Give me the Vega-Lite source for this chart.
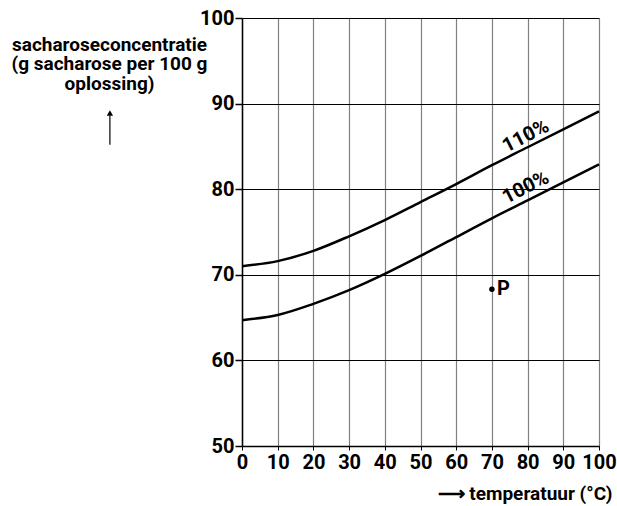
{
  "$schema": "https://vega.github.io/schema/vega-lite/v6.json",
  "width": 357,
  "height": 428,
  "autosize": {"type": "none"},
  "padding": {"left": 242, "top": 18, "right": 18, "bottom": 60},
  "background": "white",
  "config": {
    "view": {"stroke": null},
    "font": "Roboto, sans-serif"
  },
  "datasets": {
    "curves": [
      {"t": 0, "c": 71.0, "s": "110%"}, {"t": 10, "c": 71.6, "s": "110%"}, {"t": 20, "c": 72.8, "s": "110%"},
      {"t": 30, "c": 74.5, "s": "110%"}, {"t": 40, "c": 76.4, "s": "110%"}, {"t": 50, "c": 78.5, "s": "110%"},
      {"t": 60, "c": 80.6, "s": "110%"}, {"t": 70, "c": 82.8, "s": "110%"}, {"t": 80, "c": 84.9, "s": "110%"},
      {"t": 90, "c": 87.0, "s": "110%"}, {"t": 100, "c": 89.1, "s": "110%"},
      {"t": 0, "c": 64.7, "s": "100%"}, {"t": 10, "c": 65.3, "s": "100%"}, {"t": 20, "c": 66.6, "s": "100%"},
      {"t": 30, "c": 68.2, "s": "100%"}, {"t": 40, "c": 70.1, "s": "100%"}, {"t": 50, "c": 72.2, "s": "100%"},
      {"t": 60, "c": 74.4, "s": "100%"}, {"t": 70, "c": 76.6, "s": "100%"}, {"t": 80, "c": 78.7, "s": "100%"},
      {"t": 90, "c": 80.8, "s": "100%"}, {"t": 100, "c": 82.9, "s": "100%"}
    ],
    "labels": [
      {"t": 79.5, "c": 86.2, "s": "110%"},
      {"t": 79.5, "c": 80.2, "s": "100%"}
    ],
    "points": [
      {"t": 70, "c": 68.3, "s": "P"}
    ]
  },
  "encoding": {
    "x": {
      "type": "quantitative",
      "scale": {"domain": [0, 100], "nice": false, "zero": false},
      "axis": {
        "values": [0, 10, 20, 30, 40, 50, 60, 70, 80, 90, 100],
        "title": "⟶ temperatuur (°C)",
        "titleFontSize": 19,
        "titleFontWeight": "bold",
        "titleColor": "black",
        "titleAnchor": "end",
        "titleAlign": "right",
        "titleBaseline": "middle",
        "titleX": 370,
        "titleY": 47,
        "labelFontSize": 20,
        "labelFontWeight": "bold",
        "labelColor": "black",
        "labelPadding": 2,
        "labelFlush": false,
        "tickSize": 4,
        "tickColor": "black",
        "domainColor": "black",
        "domainWidth": 1.5,
        "gridColor": "#808080",
        "gridWidth": 1.2,
        "gridOpacity": 1
      }
    },
    "y": {
      "type": "quantitative",
      "scale": {"domain": [50, 100], "nice": false, "zero": false},
      "axis": {
        "values": [50, 60, 70, 80, 90, 100],
        "title": ["sacharoseconcentratie", "(g sacharose per 100 g", "oplossing)"],
        "titleFontSize": 19,
        "titleFontWeight": "bold",
        "titleColor": "black",
        "titleAngle": 0,
        "titleAlign": "center",
        "titleBaseline": "top",
        "titleLineHeight": 19.5,
        "titleX": -133,
        "titleY": 17,
        "labelFontSize": 20,
        "labelFontWeight": "bold",
        "labelColor": "black",
        "labelPadding": 1,
        "labelFlush": false,
        "tickSize": 7,
        "tickColor": "black",
        "tickWidth": 1.5,
        "domainColor": "black",
        "domainWidth": 1.5,
        "gridColor": "black",
        "gridWidth": 1,
        "gridOpacity": 1
      }
    }
  },
  "layer": [
    {
      "data": {"name": "curves"},
      "mark": {"type": "line", "interpolate": "monotone", "color": "black", "strokeWidth": 2.5},
      "encoding": {
        "x": {"field": "t"},
        "y": {"field": "c"},
        "detail": {"field": "s", "type": "nominal"}
      }
    },
    {
      "data": {"name": "labels"},
      "mark": {"type": "text", "angle": -27, "fontSize": 20, "fontWeight": "bold", "color": "black", "align": "center", "baseline": "middle"},
      "encoding": {
        "x": {"field": "t"},
        "y": {"field": "c"},
        "text": {"field": "s"}
      }
    },
    {
      "data": {"name": "points"},
      "mark": {"type": "point", "filled": true, "color": "black", "size": 30, "opacity": 1},
      "encoding": {
        "x": {"field": "t"},
        "y": {"field": "c"}
      }
    },
    {
      "data": {"name": "points"},
      "mark": {"type": "text", "fontSize": 20, "fontWeight": "bold", "color": "black", "align": "left", "baseline": "middle", "dx": 5},
      "encoding": {
        "x": {"field": "t"},
        "y": {"field": "c"},
        "text": {"field": "s"}
      }
    },
    {
      "data": {"values": [{}]},
      "mark": {"type": "rule", "color": "black", "strokeWidth": 1.2, "clip": false},
      "encoding": {
        "x": {"datum": -37},
        "y": {"datum": 85.2},
        "y2": {"datum": 88.6}
      }
    },
    {
      "data": {"values": [{}]},
      "mark": {"type": "point", "shape": "triangle-up", "filled": true, "color": "black", "size": 40, "opacity": 1, "clip": false},
      "encoding": {
        "x": {"datum": -37},
        "y": {"datum": 88.9}
      }
    }
  ]
}
